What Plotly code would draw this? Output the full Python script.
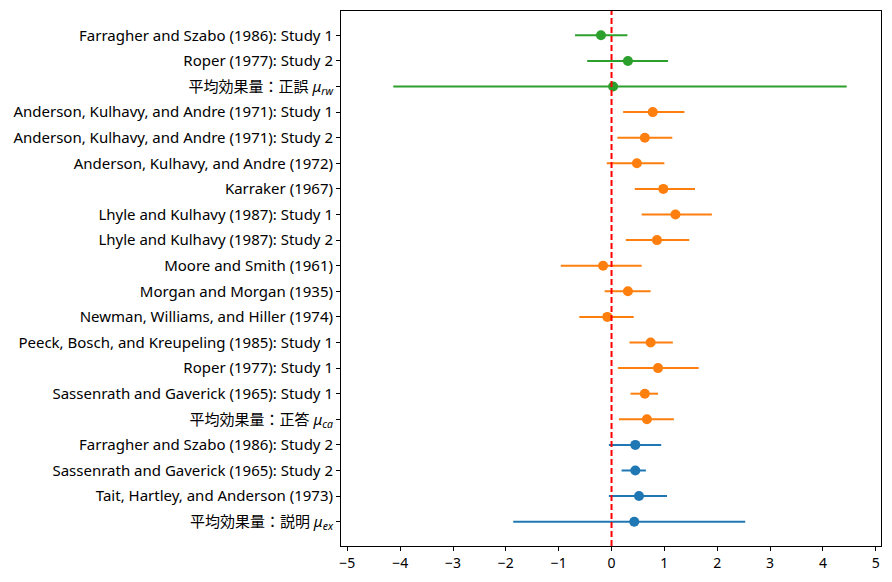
import plotly.graph_objects as go

# group: 正誤 (green)
rw_labels = ["Farragher and Szabo (1986): Study 1", "Roper (1977): Study 2",
             "平均効果量：正誤 <i>μ</i><sub><i>rw</i></sub>"]
rw_effect = [-0.20, 0.31, 0.03]
rw_low = [-0.69, -0.46, -4.13]
rw_high = [0.30, 1.07, 4.45]

# group: 正答 (orange)
ca_labels = ["Anderson, Kulhavy, and Andre (1971): Study 1",
             "Anderson, Kulhavy, and Andre (1971): Study 2",
             "Anderson, Kulhavy, and Andre (1972)",
             "Karraker (1967)",
             "Lhyle and Kulhavy (1987): Study 1",
             "Lhyle and Kulhavy (1987): Study 2",
             "Moore and Smith (1961)",
             "Morgan and Morgan (1935)",
             "Newman, Williams, and Hiller (1974)",
             "Peeck, Bosch, and Kreupeling (1985): Study 1",
             "Roper (1977): Study 1",
             "Sassenrath and Gaverick (1965): Study 1",
             "平均効果量：正答 <i>μ</i><sub><i>ca</i></sub>"]
ca_effect = [0.78, 0.63, 0.48, 0.98, 1.21, 0.86, -0.16, 0.31, -0.08, 0.74, 0.88, 0.63, 0.67]
ca_low = [0.22, 0.11, -0.09, 0.44, 0.57, 0.27, -0.96, -0.13, -0.61, 0.34, 0.12, 0.36, 0.14]
ca_high = [1.38, 1.15, 1.00, 1.58, 1.90, 1.47, 0.57, 0.74, 0.42, 1.16, 1.65, 0.88, 1.18]

# group: 説明 (blue)
ex_labels = ["Farragher and Szabo (1986): Study 2",
             "Sassenrath and Gaverick (1965): Study 2",
             "Tait, Hartley, and Anderson (1973)",
             "平均効果量：説明 <i>μ</i><sub><i>ex</i></sub>"]
ex_effect = [0.45, 0.45, 0.52, 0.43]
ex_low = [-0.05, 0.19, -0.05, -1.86]
ex_high = [0.94, 0.65, 1.05, 2.53]

groups = [
    (rw_labels, rw_effect, rw_low, rw_high, "#2ca02c"),
    (ca_labels, ca_effect, ca_low, ca_high, "#ff7f0e"),
    (ex_labels, ex_effect, ex_low, ex_high, "#1f77b4"),
]

all_labels = rw_labels + ca_labels + ex_labels

fig = go.Figure()
for labels, eff, low, high, color in groups:
    fig.add_trace(go.Scatter(
        x=eff, y=labels, mode="markers",
        marker=dict(color=color, size=10),
        error_x=dict(type="data", symmetric=False,
                     array=[h - e for h, e in zip(high, eff)],
                     arrayminus=[e - l for e, l in zip(eff, low)],
                     color=color, thickness=2, width=0),
        showlegend=False,
    ))

fig.add_vline(x=0, line=dict(color="red", dash="6px,3px", width=2))

# page body has an 8px margin, so the figure is a bit smaller than the window
fig.update_layout(
    width=876, height=566,
    margin=dict(l=333, r=2, t=2, b=24),
    plot_bgcolor="white", paper_bgcolor="white",
    font=dict(family="Noto Sans, Noto Sans CJK JP", size=15, color="black"),
)
fig.update_xaxes(range=[-5.12, 5.1], tickvals=[-5, -4, -3, -2, -1, 0, 1, 2, 3, 4, 5],
                 ticktext=["−5", "−4", "−3", "−2", "−1", "0", "1", "2", "3", "4", "5"],
                 tickfont=dict(size=14),
                 showline=True, linecolor="black", linewidth=1, mirror=True,
                 ticks="outside", ticklen=4, tickcolor="black", showgrid=False, zeroline=False)
fig.update_yaxes(type="category", categoryorder="array", categoryarray=all_labels,
                 range=[len(all_labels) - 0.05, -0.95],
                 showline=True, linecolor="black", linewidth=1, mirror=True,
                 ticks="outside", ticklen=4, tickcolor="black", showgrid=False, zeroline=False)

fig.write_html("out.html")
